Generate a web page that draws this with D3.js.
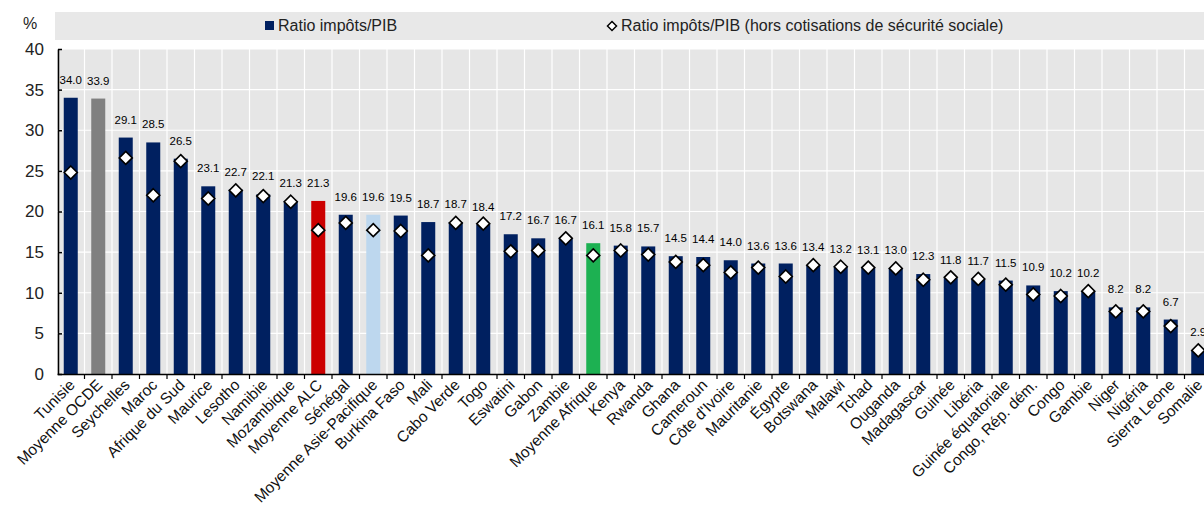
<!DOCTYPE html>
<html><head><meta charset="utf-8">
<script src="https://cdn.jsdelivr.net/npm/d3@7"></script>
<style>body{margin:0;background:#fff}svg{display:block}</style>
</head><body>
<svg id="c" width="1204" height="512"></svg>
<script>
const categories = ["Tunisie","Moyenne OCDE","Seychelles","Maroc","Afrique du Sud","Maurice","Lesotho","Namibie","Mozambique","Moyenne ALC","Sénégal","Moyenne Asie-Pacifique","Burkina Faso","Mali","Cabo Verde","Togo","Eswatini","Gabon","Zambie","Moyenne Afrique","Kenya","Rwanda","Ghana","Cameroun","Côte d'Ivoire","Mauritanie","Égypte","Botswana","Malawi","Tchad","Ouganda","Madagascar","Guinée","Libéria","Guinée équatoriale","Congo, Rép. dém.","Congo","Gambie","Niger","Nigéria","Sierra Leone","Somalie"];
const taxRatio = [34.0,33.9,29.1,28.5,26.5,23.1,22.7,22.1,21.3,21.3,19.6,19.6,19.5,18.7,18.7,18.4,17.2,16.7,16.7,16.1,15.8,15.7,14.5,14.4,14.0,13.6,13.6,13.4,13.2,13.1,13.0,12.3,11.8,11.7,11.5,10.9,10.2,10.2,8.2,8.2,6.7,2.9];
const taxRatioExclSSC = [24.8,null,26.6,22.0,26.2,21.6,22.6,21.9,21.2,17.7,18.6,17.7,17.6,14.6,18.6,18.5,15.1,15.2,16.7,14.6,15.2,14.7,13.8,13.4,12.5,13.1,12.0,13.4,13.2,13.1,13.0,11.6,11.9,11.7,11.0,9.8,9.6,10.2,7.7,7.7,5.9,2.9];
const yTicks = [0,5,10,15,20,25,30,35,40];
const seriesNames = ["Ratio impôts/PIB","Ratio impôts/PIB (hors cotisations de sécurité sociale)"];
const highlight = {"Moyenne OCDE":"#808080","Moyenne ALC":"#cc0000","Moyenne Asie-Pacifique":"#bdd7ee","Moyenne Afrique":"#1db152"};
const baseColor = "#002060";

const svg = d3.select("#c");
const x = d3.scaleBand().domain(categories).range([57,1212]).padding(0);
const y = d3.scaleLinear().domain([0,40]).range([374,49]);
const bw = x.bandwidth();
const barW = 14;

svg.append("rect").attr("x",57).attr("y",y(40)).attr("width",1212-57).attr("height",y(0)-y(40)).attr("fill","#e6e6e6");
svg.append("rect").attr("x",55).attr("y",12).attr("width",1204-55).attr("height",28).attr("fill","#e8e8e8");

svg.append("g").selectAll("line").data(yTicks.filter(t=>t>0)).join("line")
  .attr("x1",57).attr("x2",1212).attr("y1",d=>y(d)).attr("y2",d=>y(d)).attr("stroke","#fff").attr("stroke-width",1.2);
svg.append("g").selectAll("line").data(categories.slice(1)).join("line")
  .attr("x1",d=>x(d)).attr("x2",d=>x(d)).attr("y1",y(40)).attr("y2",y(0)).attr("stroke","#fff").attr("stroke-width",1.2);

const data = categories.map((c,i)=>({c, v:taxRatio[i], e:taxRatioExclSSC[i]}));

svg.append("g").selectAll("rect").data(data).join("rect")
  .attr("x",d=>x(d.c)+(bw-barW)/2).attr("width",barW)
  .attr("y",d=>y(d.v)).attr("height",d=>y(0)-y(d.v))
  .attr("fill",d=>highlight[d.c]||baseColor);

svg.append("g").selectAll("text").data(data).join("text")
  .attr("x",d=>x(d.c)+bw/2).attr("y",d=>y(d.v)-14)
  .attr("text-anchor","middle").attr("font-family","'Liberation Sans',Arial")
  .attr("font-size",11.5).attr("fill","#000").text(d=>d.v.toFixed(1));

const dia = r => `M0,${-r}L${r},0L0,${r}L${-r},0Z`;
svg.append("g").selectAll("path").data(data.filter(d=>d.e!=null)).join("path")
  .attr("transform",d=>`translate(${x(d.c)+bw/2},${y(d.e)})`)
  .attr("d",dia(6.5)).attr("fill","#fff").attr("stroke","#000").attr("stroke-width",1.6);

const yAxis = d3.axisLeft(y).tickValues(yTicks).tickSize(-4).tickSizeOuter(0).tickPadding(14);
const gy = svg.append("g").attr("transform","translate(58,0)").call(yAxis);
gy.select(".domain").attr("stroke","#000").attr("stroke-width",1.5);
gy.selectAll(".tick line").attr("stroke","#000").attr("stroke-width",1.5);
gy.selectAll("text").attr("font-family","'Liberation Sans',Arial").attr("font-size",17).attr("fill","#222");

const xAxis = d3.axisBottom(x).tickSize(0).tickSizeOuter(0);
const gx = svg.append("g").attr("transform","translate(0,374)").call(xAxis);
gx.select(".domain").attr("stroke","#000").attr("stroke-width",1.5);
gx.selectAll(".tick text")
  .attr("font-family","'Liberation Sans',Arial").attr("font-size",15.5).attr("fill","#111")
  .attr("text-anchor","end").attr("dy",0).attr("y",0)
  .attr("transform","translate(5,12) rotate(-45)");
svg.append("g").selectAll("line").data(categories.slice(1)).join("line")
  .attr("x1",d=>x(d)).attr("x2",d=>x(d)).attr("y1",374).attr("y2",379).attr("stroke","#000").attr("stroke-width",1.2);

svg.append("text").attr("x",30).attr("y",29).attr("text-anchor","middle")
  .attr("font-family","'Liberation Sans',Arial").attr("font-size",16).attr("fill","#222").text("%");

svg.append("rect").attr("x",265).attr("y",21).attr("width",9).attr("height",9).attr("fill",baseColor);
svg.append("text").attr("x",278).attr("y",31).attr("font-family","'Liberation Sans',Arial")
  .attr("font-size",16).attr("fill","#222").text(seriesNames[0]);
svg.append("path").attr("transform","translate(612,26)").attr("d",dia(4.5)).attr("fill","#fff").attr("stroke","#000").attr("stroke-width",1.5);
svg.append("text").attr("x",621).attr("y",31).attr("font-family","'Liberation Sans',Arial")
  .attr("font-size",16).attr("fill","#222").text(seriesNames[1]);
</script>
</body></html>
